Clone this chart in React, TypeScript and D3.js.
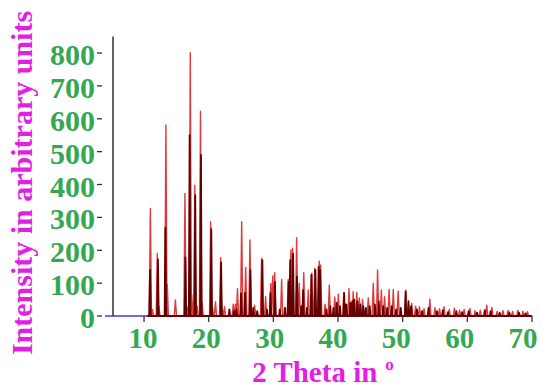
import { useMemo } from "react";
import * as d3 from "d3";

const redPeaks: [number, number][] = [
  [10.98, 327], [11.3, 20], [12.05, 190], [12.3, 30], [13.38, 581], [13.6, 95],
  [14.85, 49], [16.33, 373], [16.8, 30], [17.15, 801], [17.38, 64], [17.55, 40],
  [17.85, 398], [18.2, 30], [18.73, 623], [18.98, 40], [20.3, 287], [20.6, 25],
  [21.05, 43], [21.85, 177], [22.1, 20], [22.45, 28], [23.8, 36], [24.15, 36],
  [24.45, 83], [25.1, 287], [25.72, 148], [26.38, 231], [27.1, 33], [28.18, 175],
  [28.8, 59], [29.6, 99], [29.9, 122], [30.2, 132], [31.28, 111], [32.3, 111],
  [32.7, 200], [32.97, 206], [33.6, 238], [34.0, 99], [34.7, 132], [35.4, 79],
  [35.95, 130], [36.4, 145], [37.1, 167], [37.32, 155], [38.0, 36], [38.65, 94],
  [39.5, 58], [40.05, 67], [40.9, 71], [41.7, 84], [42.35, 74], [42.9, 72],
  [43.3, 55], [43.8, 50], [44.68, 55], [45.45, 99], [46.12, 140], [46.7, 79],
  [47.2, 59], [47.9, 81], [48.55, 81], [49.3, 76], [50.5, 79], [51.4, 39],
  [52.0, 30], [52.6, 28], [53.3, 22], [54.2, 51], [55.0, 25], [55.7, 22],
  [56.4, 28], [57.2, 20], [58.0, 24], [58.8, 18], [59.5, 20], [60.4, 23],
  [61.2, 16], [62.0, 18], [63.0, 33], [63.8, 26], [64.6, 14], [65.5, 16],
  [66.3, 17], [67.0, 14], [67.8, 17], [68.6, 15], [69.3, 13],
];

const darkPeaks: [number, number][] = [
  [10.92, 140], [12.15, 172], [13.3, 269], [16.4, 178], [17.05, 550], [17.92, 368],
  [18.8, 490], [20.4, 264], [21.92, 163], [23.2, 20], [23.9, 15], [24.3, 20],
  [25.0, 69], [25.62, 70], [26.45, 140], [26.9, 25], [27.5, 15], [28.3, 170],
  [29.0, 20], [29.55, 70], [30.25, 104], [31.0, 20], [31.8, 25], [32.35, 104],
  [32.6, 170], [33.05, 190], [33.65, 120], [34.3, 30], [34.6, 79], [35.2, 25],
  [35.88, 125], [36.5, 140], [37.0, 150], [37.22, 140], [38.2, 20], [38.8, 30],
  [39.3, 25], [39.8, 40], [40.3, 30], [40.95, 70], [41.3, 35], [41.9, 40],
  [42.2, 45], [42.5, 50], [43.0, 45], [43.45, 35], [43.9, 30], [44.3, 25],
  [44.9, 30], [45.7, 35], [46.3, 45], [47.0, 30], [47.6, 25], [48.3, 30],
  [49.0, 20], [49.7, 25], [50.45, 74], [50.9, 45], [51.3, 30], [52.2, 20],
  [53.0, 15], [54.0, 25], [55.3, 15], [56.2, 18], [57.0, 12], [58.3, 15],
  [59.2, 12], [60.2, 15], [61.5, 10], [62.7, 18], [63.6, 15], [65.0, 10],
  [66.5, 10], [68.0, 10], [69.0, 8],
];

const xTicks = [10, 20, 30, 40, 50, 60, 70];
const yTicks = [0, 100, 200, 300, 400, 500, 600, 700, 800];
const xRange: [number, number] = [5.2, 70];

const GREEN = "#35a852";
const MAGENTA = "#e31fe3";
const FONT = "\"Liberation Serif\", \"Times New Roman\", Times, \"DejaVu Serif\", serif";

function spikes(peaks: [number, number][], w: number, start: number, end: number): [number, number][] {
  const pts: [number, number][] = [[start, 0]];
  [...peaks].sort((a, b) => a[0] - b[0]).forEach(([p, h]) => {
    pts.push([p - w, 0], [p, h], [p + w, 0]);
  });
  pts.push([end, 0]);
  return pts;
}

export default function App() {
  const width = 542;
  const height = 388;
  const x = d3.scaleLinear().domain(xRange).range([113, 532]);
  const y = d3.scaleLinear().domain([0, 850]).range([316, 36.6]);
  // tick labels in the source drift slightly left of their ticks
  const xLabel = d3.scaleLinear().domain([10, 70]).range([143, 523]);

  const line = d3
    .line<[number, number]>()
    .x((d) => x(d[0]))
    .y((d) => y(d[1]));

  const redPath = useMemo(() => line(spikes(redPeaks, 0.17, 10.5, 70)), []);
  const darkPath = useMemo(() => line(spikes(darkPeaks, 0.12, 10.5, 70)), []);

  return (
    <svg
      width={width}
      height={height}
      style={{ position: "absolute", left: 0, top: 0, background: "#fff", fontFamily: FONT, fontWeight: "bold" }}
    >
      {/* baseline */}
      <line x1={105} x2={x(70)} y1={y(0)} y2={y(0)} stroke="#3b3bef" strokeWidth={1.3} />
      <path d={redPath ?? ""} fill="none" stroke="#e0393c" strokeWidth={1.4} strokeLinejoin="round" />
      <path d={darkPath ?? ""} fill="none" stroke="#620000" strokeWidth={1.8} strokeLinejoin="round" />

      {/* y axis */}
      <line x1={113} x2={113} y1={36.6} y2={y(0)} stroke="#333" strokeWidth={1.5} />
      {yTicks.map((t) => (
        <g key={t}>
          <line x1={97} x2={102} y1={y(t)} y2={y(t)} stroke="#333" strokeWidth={1.3} />
          <text x={95} y={y(t) + 12} textAnchor="end" fill={GREEN} fontSize={30}>
            {t}
          </text>
        </g>
      ))}

      {/* x axis ticks */}
      {xTicks.map((t) => (
        <g key={t}>
          <line x1={x(t)} x2={x(t)} y1={y(0)} y2={y(0) + 6} stroke="#333" strokeWidth={1.3} />
          <text x={xLabel(t)} y={348} textAnchor="middle" fill={GREEN} fontSize={29}>
            {t}
          </text>
        </g>
      ))}

      <text x={323} y={382} textAnchor="middle" fill={MAGENTA} fontSize={29}>
        2 Theta in
        <tspan dx={8} dy={-12} fontSize={17}>o</tspan>
      </text>

      <text transform="translate(32,183) rotate(-90)" textAnchor="middle" fill={MAGENTA} fontSize={30}>
        Intensity in arbitrary units
      </text>
    </svg>
  );
}
